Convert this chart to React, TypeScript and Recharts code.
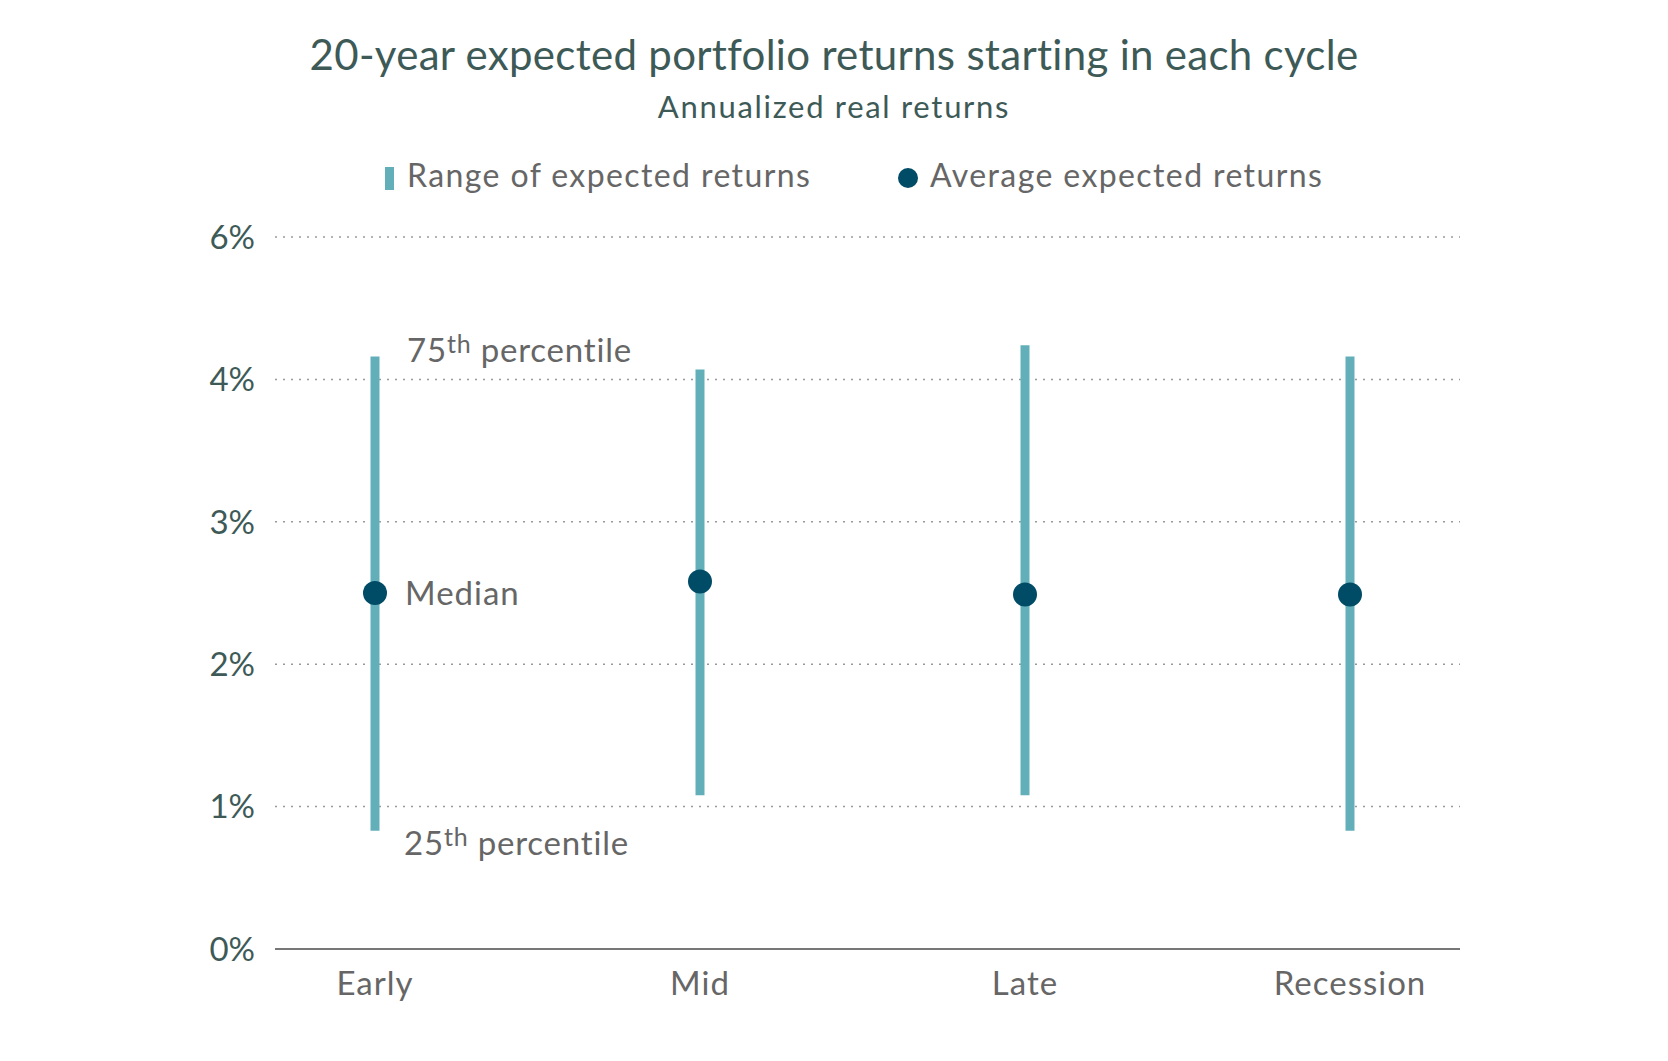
import React from "react";
import {
  CartesianGrid,
  ComposedChart,
  ErrorBar,
  ReferenceDot,
  Scatter,
  XAxis,
  YAxis,
} from "recharts";

const cycles = ["Early", "Mid", "Late", "Recession"];
const pct25 = [0.83, 1.08, 1.08, 0.83];
const pct75 = [4.16, 4.07, 4.24, 4.16];
const medians = [2.5, 2.58, 2.49, 2.49];

// axis positions 0..5; the source labels the top gridline "6%"
const yTicks = [0, 1, 2, 3, 4, 5];
const yTickLabels = ["0%", "1%", "2%", "3%", "4%", "6%"];

const TEAL = "#62afba";
const NAVY = "#004b66";
const INK = "#3d5a57";
const GREY = "#666666";
const FONT = "Lato, 'Open Sans', sans-serif";

const data = cycles.map((cycle, i) => ({
  cycle,
  median: medians[i],
  range: [medians[i] - pct25[i], pct75[i] - medians[i]],
}));

const percentileLabel = (num: string, dx: number, dy: number) => (props: any) => {
  const vb = props.viewBox || {};
  return (
    <text
      x={vb.x + dx}
      y={vb.y + dy}
      fill={GREY}
      fontSize={33}
      letterSpacing={0.8}
      fontFamily={FONT}
    >
      {num}
      <tspan fontSize={25} dy={-9}>
        th
      </tspan>
      <tspan fontSize={33} dy={9}>
        {" percentile"}
      </tspan>
    </text>
  );
};

const medianLabel = (props: any) => {
  const vb = props.viewBox || {};
  return (
    <text
      x={vb.x + 30}
      y={vb.y + 12}
      fill={GREY}
      fontSize={33}
      letterSpacing={1}
      fontFamily={FONT}
    >
      Median
    </text>
  );
};

export default function App() {
  return (
    <div
      style={{
        position: "absolute",
        left: 0,
        top: 0,
        width: 1668,
        height: 1061,
        background: "#fff",
        fontFamily: FONT,
      }}
    >
      <svg width={1668} height={220} style={{ position: "absolute", left: 0, top: 0 }}>
        <text
          x={834}
          y={70}
          textAnchor="middle"
          fontSize={42}
          letterSpacing={0.3}
          fill={INK}
          fontFamily={FONT}
        >
          20-year expected portfolio returns starting in each cycle
        </text>
        <text
          x={834}
          y={118}
          textAnchor="middle"
          fontSize={31}
          letterSpacing={1.7}
          fill={INK}
          fontFamily={FONT}
        >
          Annualized real returns
        </text>
        <rect x={385} y={167} width={9} height={23} fill={TEAL} />
        <text x={407} y={187} fontSize={32} letterSpacing={1.4} fill={GREY} fontFamily={FONT}>
          Range of expected returns
        </text>
        <circle cx={908} cy={178} r={10} fill={NAVY} />
        <text x={930} y={187} fontSize={32} letterSpacing={1.4} fill={GREY} fontFamily={FONT}>
          Average expected returns
        </text>
      </svg>
      <div style={{ position: "absolute", left: 0, top: 0 }}>
        <ComposedChart
          width={1668}
          height={1061}
          data={data}
          margin={{ top: 237, right: 208, bottom: 52, left: 215 }}
        >
          <CartesianGrid vertical={false} stroke="#999" strokeDasharray="2 6" strokeWidth={1.5} />
          <XAxis
            dataKey="cycle"
            scale="point"
            padding={{ left: 100, right: 110 }}
            height={60}
            tickLine={false}
            tickSize={0}
            tickMargin={23}
            axisLine={{ stroke: "#777", strokeWidth: 2 }}
            tick={{ fill: GREY, fontSize: 33, letterSpacing: 1, fontFamily: FONT }}
          />
          <YAxis
            type="number"
            domain={[0, 5]}
            ticks={yTicks}
            width={60}
            axisLine={false}
            tickLine={false}
            tickSize={0}
            tickMargin={20}
            tickFormatter={(v: number) => yTickLabels[v]}
            tick={{ fill: INK, fontSize: 33, fontFamily: FONT }}
          />
          <Scatter
            name="Range of expected returns"
            dataKey="median"
            isAnimationActive={false}
            shape={() => <g />}
          >
            <ErrorBar
              dataKey="range"
              direction="y"
              width={0}
              stroke={TEAL}
              strokeWidth={9}
              isAnimationActive={false}
            />
          </Scatter>
          <Scatter
            name="Average expected returns"
            dataKey="median"
            isAnimationActive={false}
            shape={(p: any) => <circle cx={p.cx} cy={p.cy} r={12} fill={NAVY} />}
          />
          <ReferenceDot
            x={cycles[0]}
            y={pct75[0]}
            r={0}
            fill="none"
            stroke="none"
            label={percentileLabel("75", 32, 5)}
          />
          <ReferenceDot
            x={cycles[0]}
            y={pct25[0]}
            r={0}
            fill="none"
            stroke="none"
            label={percentileLabel("25", 29, 24)}
          />
          <ReferenceDot
            x={cycles[0]}
            y={medians[0]}
            r={0}
            fill="none"
            stroke="none"
            label={medianLabel}
          />
        </ComposedChart>
      </div>
    </div>
  );
}
